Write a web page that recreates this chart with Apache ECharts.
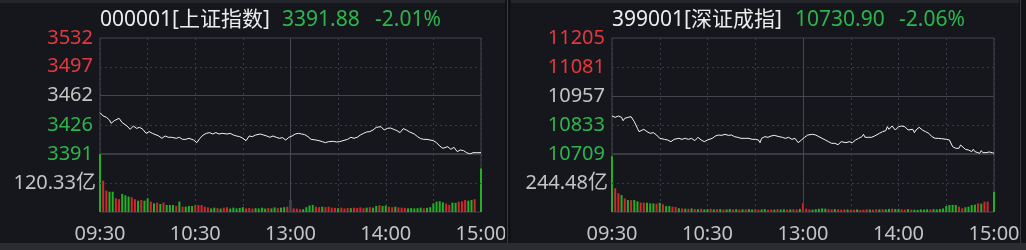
<!DOCTYPE html>
<html><head><meta charset="utf-8">
<script src="https://cdn.jsdelivr.net/npm/echarts/dist/echarts.min.js"></script>
<style>html,body{margin:0;padding:0;background:#15171d;overflow:hidden}#c{width:1026px;height:250px}</style>
</head><body><div id="c"></div><script>
// ---------- data ----------
const timeTicks = [0, 60, 120, 180, 240];
const timeLabels = ['09:30', '10:30', '13:00', '14:00', '15:00'];
const VOL_STEP = 2; // minutes per volume bar

// 000001 上证指数
const shName = '000001[上证指数]';
const shLast = '3391.88';
const shChg = '-2.01%';
const shPriceTicks = [3391, 3426, 3462, 3497, 3532];
const shVolMax = 240.66;
const shVolLabel = 120.33;
const shTimes = [0,2,4,6,7,9,10,12,14,17,19,21,23,25,27,29,31,33,37,39,41,43,45,48,50,52,54,56,59,61,63,65,67,69,71,73,75,77,80,82,84,86,88,90,92,94,96,98,101,103,105,107,109,111,113,115,117,119,
 121,123,125,127,129,131,133,136,138,140,142,144,145,147,149,151,153,156,158,160,162,164,166,168,170,172,174,177,179,181,183,185,187,189,191,193,195,198,200,202,204,206,208,210,212,214,216,219,221,223,225,227,229,231,233,235,237,240];
const shPrices = [3441.2,3437.2,3435.6,3432.3,3428.3,3431.5,3430.3,3434.4,3429.1,3425.0,3421.0,3425.0,3422.2,3423.4,3421.0,3416.1,3418.2,3416.1,3412.9,3410.1,3412.9,3411.3,3411.3,3410.1,3411.3,3408.8,3408.8,3410.1,3408.0,3404.8,3410.1,3414.1,3416.1,3417.0,3415.3,3417.0,3415.3,3416.1,3415.3,3416.1,3414.1,3412.9,3412.1,3410.1,3407.2,3412.9,3412.1,3414.1,3415.3,3414.1,3412.9,3411.3,3412.9,3411.3,3410.1,3410.9,3408.0,3411.3,
 3412.9,3415.3,3416.1,3415.3,3414.5,3412.1,3408.8,3408.0,3407.2,3406.0,3404.8,3406.0,3404.0,3406.4,3405.6,3406.0,3407.2,3408.8,3411.3,3410.1,3411.3,3414.1,3416.1,3417.8,3418.2,3420.2,3423.4,3424.2,3420.2,3422.2,3422.6,3421.0,3419.4,3417.0,3421.8,3420.2,3417.8,3415.3,3412.1,3409.7,3408.8,3408.8,3408.0,3407.2,3404.8,3400.7,3397.9,3399.9,3396.7,3399.1,3393.9,3395.9,3395.1,3392.6,3391.0,3392.6,3392.6,3392.6];
const shVol = [240.66,130,89,84,84,57,53,75,69,64,61,53,47,50,47,57,43,36,39,33,39,29,29,29,25,43,22,22,25,25,29,29,29,22,19,15,18,16,14,18,20,14,18,15,17,20,15,17,14,16,15,18,14,17,15,19,16,18,20,22,
 50,15,14,11,12,20,27,29,22,20,22,20,22,18,17,16,18,15,17,16,18,17,19,16,18,20,18,25,28,25,27,22,20,22,19,18,17,15,16,15,16,18,15,17,20,36,43,45,40,35,30,39,38,43,44,50,47,50,53,0,181];
const shDir = [-1,1,1,-1,-1,1,1,-1,-1,-1,1,1,-1,1,-1,-1,1,-1,1,-1,1,-1,-1,-1,1,-1,1,-1,-1,-1,1,1,1,1,1,-1,-1,1,-1,1,1,-1,-1,-1,-1,-1,1,1,1,-1,-1,-1,-1,1,-1,-1,1,-1,-1,1,
 1,1,1,1,-1,-1,-1,-1,1,1,-1,1,1,1,1,-1,1,1,1,-1,1,1,1,1,-1,1,-1,-1,1,-1,-1,1,1,-1,1,1,1,-1,-1,-1,-1,-1,1,-1,-1,-1,-1,-1,-1,1,1,-1,-1,1,1,1,-1,-1,1,-1,-1];

// 399001 深证成指
const szName = '399001[深证成指]';
const szLast = '10730.90';
const szChg = '-2.06%';
const szPriceTicks = [10709, 10833, 10957, 11081, 11205];
const szVolMax = 488.96;
const szVolLabel = 244.48;
const szTimes = [0,2,4,6,7,8,10,12,13,14,16,17,20,22,24,26,28,30,31,33,35,37,39,42,44,46,48,50,52,54,56,58,60,63,65,67,69,71,73,75,77,79,81,84,86,88,90,92,93,94,96,98,100,102,105,107,109,111,113,115,117,119,
 121,123,126,128,130,132,134,136,138,140,142,144,147,149,151,153,155,157,158,159,161,163,165,168,170,172,173,174,176,178,180,182,184,186,189,190,191,193,195,197,199,201,203,205,207,210,212,214,216,218,219,220,222,224,226,227,228,231,232,233,235,237,239,240];
const szPrices = [10871.5,10865.8,10871.5,10865.8,10851.5,10861.5,10865.8,10868.6,10861.5,10847.3,10818.7,10804.5,10814.5,10804.5,10797.4,10800.2,10790.2,10776.0,10783.1,10771.7,10768.9,10761.7,10771.7,10776.0,10771.7,10776.0,10771.7,10776.0,10766.0,10780.3,10768.9,10761.7,10768.9,10776.0,10786.0,10790.2,10788.8,10793.1,10788.8,10790.2,10783.1,10780.3,10776.0,10776.0,10776.0,10771.7,10771.7,10768.9,10757.5,10776.0,10783.1,10780.3,10786.0,10788.8,10783.1,10780.3,10776.0,10780.3,10771.7,10776.0,10757.5,10768.9,
 10780.3,10790.2,10793.1,10790.2,10783.1,10776.0,10768.9,10761.7,10754.6,10754.6,10748.9,10761.7,10757.5,10761.7,10757.5,10768.9,10776.0,10783.1,10793.1,10780.3,10780.3,10780.3,10786.0,10797.4,10804.5,10808.8,10825.9,10814.5,10828.7,10811.6,10825.9,10828.7,10825.9,10811.6,10814.5,10800.2,10811.6,10823.0,10811.6,10804.5,10797.4,10783.1,10776.0,10776.0,10774.6,10771.7,10768.9,10740.4,10733.2,10733.2,10747.5,10740.4,10729.0,10726.1,10719.0,10729.0,10719.0,10711.9,10723.3,10714.7,10714.7,10717.6,10714.7,10711.9];
const szVol = [470,200,158,143,115,101,100,101,90,80,79,78,73,72,70,78,65,50,50,45,42,32,30,28,27,30,25,24,28,22,25,27,22,24,25,20,22,26,21,24,20,23,22,25,21,24,20,22,25,19,22,20,24,21,23,20,22,24,21,26,
 76,28,22,20,24,27,30,28,24,22,25,22,20,22,21,19,20,22,18,20,22,21,20,23,22,24,22,26,28,25,26,22,20,24,21,20,18,22,20,23,21,24,22,26,30,51,59,60,59,45,31,40,45,59,62,73,70,87,87,0,170];
const szDir = [-1,1,1,-1,1,-1,1,-1,-1,1,1,-1,-1,-1,1,-1,1,-1,-1,1,1,-1,1,-1,1,-1,1,-1,1,-1,-1,1,-1,1,-1,1,-1,-1,1,-1,1,-1,1,-1,-1,1,1,-1,-1,1,1,-1,1,-1,-1,1,-1,1,1,-1,
 1,1,1,-1,-1,-1,-1,-1,1,1,-1,1,1,1,-1,1,1,-1,1,1,1,-1,1,1,-1,1,-1,-1,1,-1,-1,1,1,-1,1,-1,-1,-1,-1,-1,1,-1,-1,-1,-1,-1,-1,-1,-1,1,1,-1,-1,-1,-1,1,-1,1,1,-1,-1];

// ---------- style ----------
const FONT = "'Noto Sans','Noto Sans CJK SC',sans-serif";
const RED = '#e5383e', GREEN = '#2db54d', GRAY = '#c4c4c4', WHITE = '#ececec';
const BAR_RED = '#d2272c', BAR_GREEN = '#24b024';
const SOLID = '#44474f', DOT = '#383b43';

const chart = echarts.init(document.getElementById('c'), null, {renderer: 'canvas'});
const grids = [], xAxes = [], yAxes = [], series = [], titles = [];

function timeFmt(v) { const i = timeTicks.indexOf(v); return i >= 0 ? timeLabels[i] : ''; }

function addPanel(left, width, name, last, chg, tick, volMax, volLabel, times, prices, vol, dir, tx) {
  const gp = grids.length;
  grids.push({left: left, top: 38, width: width, height: 116, show: true, borderColor: SOLID, borderWidth: 1, outerBoundsMode: 'none', containLabel: false});
  grids.push({left: left, top: 154, width: width, height: 58, show: true, borderColor: SOLID, borderWidth: 1, outerBoundsMode: 'none', containLabel: false});
  const xBase = {type: 'value', min: 0, max: 240, interval: 30, axisLine: {show: false}, axisTick: {show: false},
    splitLine: {show: true, lineStyle: {color: DOT, type: [2, 3], width: 1}}};
  xAxes.push(Object.assign({gridIndex: gp, axisLabel: {show: false}}, xBase));
  xAxes.push(Object.assign({gridIndex: gp + 1, axisLabel: {show: true, color: GRAY, fontSize: 20, fontFamily: FONT, margin: 12,
    formatter: timeFmt, showMinLabel: true, showMaxLabel: true}}, xBase));
  const tickColor = (v) => { const i = tick.indexOf(Number(v)); return i < 2 ? GREEN : (i === 2 ? GRAY : RED); };
  yAxes.push({gridIndex: gp, type: 'value', min: tick[0], max: tick[4], axisLine: {show: false}, axisTick: {show: false}, splitLine: {show: false},
    axisLabel: {customValues: tick, color: tickColor, formatter: (v) => String(Math.round(v)), fontSize: 20, fontFamily: FONT, margin: 7, showMinLabel: true, showMaxLabel: true}});
  yAxes.push({gridIndex: gp + 1, type: 'value', min: 0, max: volMax, axisLine: {show: false}, axisTick: {show: false}, splitLine: {show: false},
    axisLabel: {customValues: [volLabel], color: GRAY, fontSize: 20, fontFamily: FONT, margin: 4, formatter: (v) => v.toFixed(2) + '亿'}});
  const yi = yAxes.length - 2, xi = xAxes.length - 2;
  series.push({type: 'line', xAxisIndex: xi, yAxisIndex: yi, data: times.map((t, i) => [t, prices[i]]), showSymbol: false, symbol: 'none',
    lineStyle: {color: '#f4f4f4', width: 1}, silent: true, z: 5,
    markLine: {silent: true, symbol: 'none', label: {show: false}, animation: false, z: 2,
      data: [
        {yAxis: tick[2], lineStyle: {color: SOLID, type: 'solid', width: 1}},
        {yAxis: tick[1], lineStyle: {color: DOT, type: [2, 3], width: 1}},
        {yAxis: tick[3], lineStyle: {color: DOT, type: [2, 3], width: 1}},
        {xAxis: 120, lineStyle: {color: SOLID, type: 'solid', width: 1}}
      ]}});
  series.push({type: 'bar', xAxisIndex: xi + 1, yAxisIndex: yi + 1, barWidth: 2, silent: true,
    data: vol.map((v, i) => ({value: [i * VOL_STEP, v], itemStyle: {color: dir[i] > 0 ? BAR_RED : BAR_GREEN}})),
    markLine: {silent: true, symbol: 'none', label: {show: false}, animation: false,
      data: [
        {yAxis: volLabel, lineStyle: {color: DOT, type: [2, 3], width: 1}},
        {xAxis: 120, lineStyle: {color: SOLID, type: 'solid', width: 1}}
      ]}});
  const ts = {fontSize: 21, fontWeight: 'normal', fontFamily: FONT};
  titles.push({text: name, left: tx[0], top: 10, padding: 0, textStyle: Object.assign({color: WHITE}, ts)});
  titles.push({text: last, left: tx[1], top: 10, padding: 0, textStyle: Object.assign({color: GREEN}, ts)});
  titles.push({text: chg, left: tx[2], top: 10, padding: 0, textStyle: Object.assign({color: GREEN}, ts)});
}

addPanel(100, 381, shName, shLast, shChg, shPriceTicks, shVolMax, shVolLabel, shTimes, shPrices, shVol, shDir, [100, 282, 375]);
addPanel(612, 382, szName, szLast, szChg, szPriceTicks, szVolMax, szVolLabel, szTimes, szPrices, szVol, szDir, [612, 795, 899]);

chart.setOption({
  backgroundColor: '#15171d',
  animation: false,
  title: titles,
  grid: grids, xAxis: xAxes, yAxis: yAxes, series: series,
  graphic: [
    {type: 'rect', shape: {x: 0, y: 0, width: 1026, height: 3}, style: {fill: '#24262c'}, z: 100},
    {type: 'rect', shape: {x: 0, y: 243, width: 1026, height: 7}, style: {fill: '#2a2c32'}, z: 100},
    {type: 'rect', shape: {x: 505, y: 0, width: 6, height: 243}, style: {fill: '#101216'}, z: 100},
    {type: 'rect', shape: {x: 507, y: 0, width: 1, height: 243}, style: {fill: '#3a3c43'}, z: 101},
    {type: 'rect', shape: {x: 1019, y: 0, width: 7, height: 243}, style: {fill: '#101216'}, z: 100},
    {type: 'rect', shape: {x: 1020, y: 0, width: 1, height: 243}, style: {fill: '#3a3c43'}, z: 101}
  ]
});
</script></body></html>
